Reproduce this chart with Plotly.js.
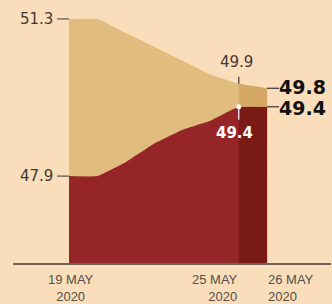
<!DOCTYPE html>
<html><head><meta charset="utf-8">
<script src="https://cdn.plot.ly/plotly-3.0.1.min.js"></script>
<style>html,body{margin:0;padding:0;background:#FADDBB;}</style>
</head><body><div id="chart" style="width:332px;height:304px;"></div>
<script>
const dates = ['2020-05-19','2020-05-20','2020-05-21','2020-05-22','2020-05-23','2020-05-24','2020-05-25','2020-05-26'];
const upper = [51.3, 51.3, 51.0, 50.7, 50.4, 50.1, 49.9, 49.8];
const lower = [47.9, 47.9, 48.2, 48.6, 48.9, 49.1, 49.4, 49.4];
const dateTicks = ['2020-05-19','2020-05-25','2020-05-26'];
const dateTickText = ['19 MAY<br>2020','25 MAY<br>2020','26 MAY<br>2020'];

const DAY = 86400000;
const ms = s => new Date(s + 'T00:00:00Z').getTime();
const ds = m => new Date(m).toISOString().replace('T',' ').replace('Z','');
const pxPerDay = 28.29;
const dx = p => p / pxPerDay * DAY;
const yMin = 46.02, yMax = 51.71, plotH = 263;
const dy = p => p * (yMax - yMin) / plotH;

const d0 = ms(dates[0]);
const dLast = ms(dates[dates.length-1]);
const n = dates.length;

const BG = '#FADDBB', TAN = '#E0BC7E', TAN2 = '#D5A965', RED = '#962528', RED2 = '#7A1B16';
const INK = '#3f3a36';

const traces = [
  {x: dates, y: upper, type:'scatter', mode:'lines', fill:'tozeroy', fillcolor:TAN, line:{width:0, shape:'spline', smoothing:0.3}, hoverinfo:'skip'},
  {x: dates, y: lower, type:'scatter', mode:'lines', fill:'tozeroy', fillcolor:RED, line:{width:0, shape:'spline', smoothing:0.3}, hoverinfo:'skip'},
  {x: dates.slice(n-2), y: lower.slice(n-2), type:'scatter', mode:'lines', fill:'tozeroy', fillcolor:RED2, line:{width:0}, hoverinfo:'skip'},
  {x: dates.slice(n-2), y: upper.slice(n-2), type:'scatter', mode:'lines', fill:'tonexty', fillcolor:TAN2, line:{width:0}, hoverinfo:'skip'},
  {x: [dates[n-2]], y: [lower[n-2]], type:'scatter', mode:'markers', marker:{color:'#ffffff', size:5}, hoverinfo:'skip'}
];

const shapes = [
  {type:'line', xref:'x', yref:'y', x0: ds(d0 - dx(12)), x1: ds(d0), y0: upper[0], y1: upper[0], line:{color:'#5a524c', width:1.2}},
  {type:'line', xref:'x', yref:'y', x0: ds(d0 - dx(12)), x1: ds(d0), y0: lower[0], y1: lower[0], line:{color:'#5a524c', width:1.2}},
  {type:'line', xref:'x', yref:'y', x0: dates[n-2], x1: dates[n-2], y0: upper[n-2], y1: upper[n-2] + dy(7), line:{color:'#3a3430', width:1.2}},
  {type:'line', xref:'x', yref:'y', x0: dates[n-2], x1: dates[n-2], y0: lower[n-2], y1: lower[n-2] - dy(13), line:{color:'#ffffff', width:1.2}},
  {type:'line', xref:'x', yref:'y', x0: ds(dLast), x1: ds(dLast + dx(12)), y0: upper[n-1], y1: upper[n-1], line:{color:'#3a3430', width:1.2}},
  {type:'line', xref:'x', yref:'y', x0: ds(dLast), x1: ds(dLast + dx(12)), y0: lower[n-1], y1: lower[n-1], line:{color:'#3a3430', width:1.2}}
];

const labFont = {family:'DejaVu Sans', size:15, color:INK};
const boldFont = {family:'DejaVu Sans', size:19, color:'#111111', weight:'bold'};
const annotations = [
  {x: dates[0], y: upper[0], xref:'x', yref:'y', text: upper[0].toFixed(1), showarrow:false, xanchor:'right', yanchor:'middle', xshift:-14, font:labFont},
  {x: dates[0], y: lower[0], xref:'x', yref:'y', text: lower[0].toFixed(1), showarrow:false, xanchor:'right', yanchor:'middle', xshift:-14, font:labFont},
  {x: dates[n-2], y: upper[n-2], xref:'x', yref:'y', text: upper[n-2].toFixed(1), showarrow:false, xanchor:'center', yanchor:'middle', xshift:-2, yshift:22, font:labFont},
  {x: dates[n-2], y: lower[n-2], xref:'x', yref:'y', text: lower[n-2].toFixed(1), showarrow:false, xanchor:'center', yanchor:'middle', xshift:-4, yshift:-26, font:{family:'DejaVu Sans', size:15, color:'#ffffff', weight:'bold'}},
  {x: dates[n-1], y: upper[n-1], xref:'x', yref:'y', text: '<b>' + upper[n-1].toFixed(1) + '</b>', showarrow:false, xanchor:'left', yanchor:'middle', xshift:11, yshift:1, borderpad:0, font:boldFont},
  {x: dates[n-1], y: lower[n-1], xref:'x', yref:'y', text: '<b>' + lower[n-1].toFixed(1) + '</b>', showarrow:false, xanchor:'left', yanchor:'middle', xshift:11, yshift:-1, borderpad:0, font:boldFont}
];
const anchors = ['center','right','left'];
const xshifts = [2, 1, -1];
dateTicks.forEach((d, i) => {
  annotations.push({x: d, y: 0, xref:'x', yref:'paper', text: dateTickText[i], showarrow:false, xanchor: anchors[i], yanchor:'top', align: anchors[i], xshift: xshifts[i], yshift:-7, font:{family:'Liberation Sans', size:13, color:'#555048'}});
});

const layout = {
  width:332, height:304,
  margin:{l:13, r:1, t:0, b:41},
  paper_bgcolor:BG, plot_bgcolor:BG,
  showlegend:false,
  xaxis:{type:'date', range:[ds(d0 - 1.98*DAY), ds(dLast + 2.26*DAY)], showgrid:false, zeroline:false, showticklabels:false, ticks:'', showline:true, linecolor:'#6e6259', linewidth:1.5, fixedrange:true},
  yaxis:{range:[yMin, yMax], showgrid:false, zeroline:false, showticklabels:false, ticks:'', showline:false, fixedrange:true},
  shapes: shapes,
  annotations: annotations
};

Plotly.newPlot('chart', traces, layout, {displayModeBar:false, staticPlot:true});
</script></body></html>
